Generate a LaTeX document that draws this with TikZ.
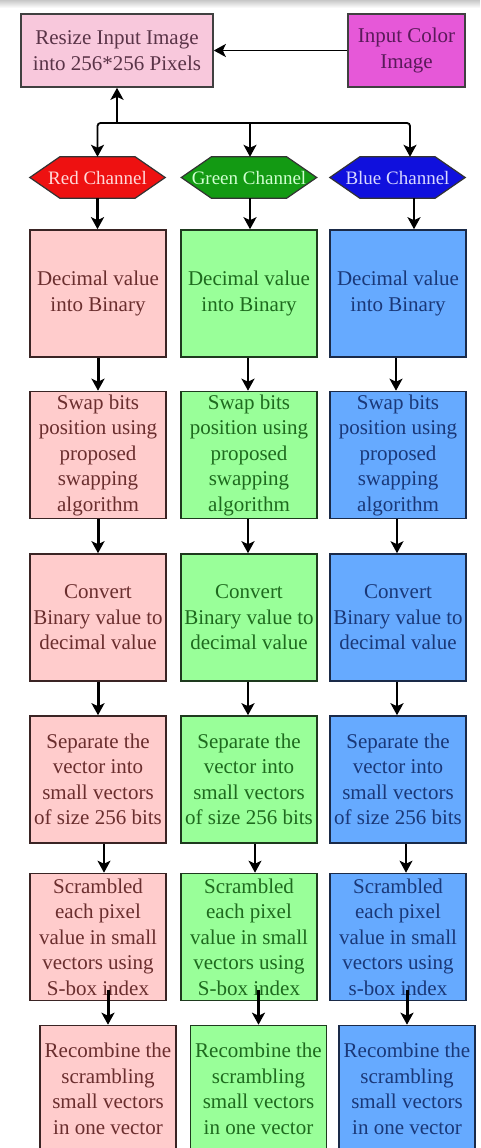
\documentclass[tikz,border=0pt]{standalone}
\usepackage{fontspec}
\setmainfont{Liberation Serif}
\usetikzlibrary{arrows.meta,calc,backgrounds}
\definecolor{resizefill}{HTML}{F8C8DC}
\definecolor{resizetext}{HTML}{5A3448}
\definecolor{inputfill}{HTML}{E658D8}
\definecolor{inputtext}{HTML}{5A1A5A}
\definecolor{rfill}{HTML}{FFCCCC}
\definecolor{gfill}{HTML}{99FF99}
\definecolor{bfill}{HTML}{66AAFF}
\definecolor{rtext}{HTML}{6A2E2E}
\definecolor{gtext}{HTML}{1E6A1E}
\definecolor{btext}{HTML}{1A3878}
\definecolor{rdraw}{HTML}{3A2424}
\definecolor{gdraw}{HTML}{1E3A1E}
\definecolor{bdraw}{HTML}{1A2A48}
\definecolor{rhex}{HTML}{EE1111}
\definecolor{ghex}{HTML}{139A13}
\definecolor{bhex}{HTML}{1010DD}
\definecolor{rhextext}{HTML}{FFD8D8}
\definecolor{ghextext}{HTML}{D0FFD0}
\definecolor{bhextext}{HTML}{D8D8FF}
\tikzset{
  base/.style={rectangle, line width=1.6pt, minimum width=136pt, minimum height=127pt,
    inner sep=0pt, align=center, font=\fontsize{21}{25.5}\selectfont},
  rbox/.style={base, fill=rfill, draw=rdraw, text=rtext},
  gbox/.style={base, fill=gfill, draw=gdraw, text=gtext},
  bluebox/.style={base, fill=bfill, draw=bdraw, text=btext},
  topbox/.style={rectangle, line width=1.6pt, draw=black!75, minimum height=73pt,
    inner sep=0pt, align=center, font=\fontsize{21}{25.5}\selectfont},
  hexa/.style={rectangle, minimum width=135pt, minimum height=41pt, inner sep=0pt,
    font=\fontsize{19}{22}\selectfont},
  hexline/.style={line width=1.2pt, draw=black!80, line join=miter},
  arr/.style={-{Stealth[length=12pt,width=13pt,inset=3pt]}, line width=2.4pt, black},
  thinarr/.style={arr, line width=1.4pt},
}
\newcommand{\hexfill}[2]{%
  \filldraw[hexline, fill=#2] (#1.west) -- ([xshift=30pt]#1.north west) -- ([xshift=-30pt]#1.north east)
    -- (#1.east) -- ([xshift=-30pt]#1.south east) -- ([xshift=30pt]#1.south west) -- cycle;}
\begin{document}
\begin{tikzpicture}[x=1pt,y=-1pt]
\useasboundingbox (0,0) rectangle (480,1148);
% hexagon labels (shapes drawn below on background layer)
\node[hexa, text=rhextext] (rh) at (97.5,177.5) {Red Channel};
\node[hexa, text=ghextext] (gh) at (249,177.5) {Green Channel};
\node[hexa, text=bhextext] (bh) at (397.5,177.5) {Blue Channel};
\begin{scope}[on background layer]
  \fill[white] (0,0) rectangle (480,1148);
  \shade[top color=black!22, bottom color=white] (0,0) rectangle (480,8);
  \hexfill{rh}{rhex}
  \hexfill{gh}{ghex}
  \hexfill{bh}{bhex}
\end{scope}
% top row
\node[topbox, fill=resizefill, text=resizetext, minimum width=192pt] (resize) at (117,50.5)
  {Resize Input Image\\into 256*256 Pixels};
\node[topbox, fill=inputfill, text=inputtext, minimum width=117pt] (input) at (406.5,50.5)
  {Input Color\\Image};
% red column
\node[rbox] (rd) at (98,293.5) {Decimal value\\into Binary};
\node[rbox] (rs) at (98,455) {Swap bits\\position using\\proposed\\swapping\\algorithm};
\node[rbox] (rv) at (98,617.5) {Convert\\Binary value to\\decimal value};
\node[rbox] (rp) at (98,779.5) {Separate the\\vector into\\small vectors\\of size 256 bits};
\node[rbox] (rc) at (98,937) {Scrambled\\each pixel\\value in small\\vectors using\\S-box index};
\node[rbox] (rr) at (108,1089) {Recombine the\\scrambling\\small vectors\\in one vector};
% green column
\node[gbox] (gd) at (249,293.5) {Decimal value\\into Binary};
\node[gbox] (gs) at (249,455) {Swap bits\\position using\\proposed\\swapping\\algorithm};
\node[gbox] (gv) at (249,617.5) {Convert\\Binary value to\\decimal value};
\node[gbox] (gp) at (249,779.5) {Separate the\\vector into\\small vectors\\of size 256 bits};
\node[gbox] (gc) at (249,937) {Scrambled\\each pixel\\value in small\\vectors using\\S-box index};
\node[gbox] (gr) at (258.5,1089) {Recombine the\\scrambling\\small vectors\\in one vector};
% blue column
\node[bluebox] (bd) at (398,293.5) {Decimal value\\into Binary};
\node[bluebox] (bs) at (398,455) {Swap bits\\position using\\proposed\\swapping\\algorithm};
\node[bluebox] (bv) at (398,617.5) {Convert\\Binary value to\\decimal value};
\node[bluebox] (bp) at (398,779.5) {Separate the\\vector into\\small vectors\\of size 256 bits};
\node[bluebox] (bc) at (398,937) {Scrambled\\each pixel\\value in small\\vectors using\\s-box index};
\node[bluebox] (br) at (407,1089) {Recombine the\\scrambling\\small vectors\\in one vector};
% connectors at top
\draw[arr, line width=1.8pt] (input.west) -- (resize.east);
\coordinate (j) at (117,123);
\draw[arr, line width=2.8pt] (j) -- (resize.south);
\draw[arr, line width=1.8pt, rounded corners=3pt] (j) -| (rh.north);
\draw[arr, line width=1.8pt] (j) -| ([xshift=1pt]gh.north);
\draw[arr, line width=1.8pt, rounded corners=3pt] (j) -| ([xshift=12.5pt]bh.north);
% hex to first boxes
\draw[arr] (rh.south) -- (rh.south |- rd.north);
\draw[arr] ([xshift=1pt]gh.south) -- ([xshift=1pt]gh.south |- gd.north);
\draw[arr, line width=1.8pt] ([xshift=16.5pt]bh.south) -- ([xshift=16.5pt]bh.south |- bd.north);
% column arrows
\draw[arr, line width=3pt] (rd.south) -- (rs.north);
\draw[arr] ([xshift=-1pt]gd.south) -- ([xshift=-1pt]gs.north);
\draw[arr, line width=2pt] ([xshift=-2pt]bd.south) -- ([xshift=-2pt]bs.north);
\draw[arr, line width=3pt] (rs.south) -- (rv.north);
\draw[arr] ([xshift=-1pt]gs.south) -- ([xshift=-1pt]gv.north);
\draw[thinarr] ([xshift=-1pt]bs.south) -- ([xshift=-1pt]bv.north);
\draw[arr, line width=3pt] (rv.south) -- (rp.north);
\draw[arr] ([xshift=-1pt]gv.south) -- ([xshift=-1pt]gp.north);
\draw[arr] ([xshift=-1pt]bv.south) -- ([xshift=-1pt]bp.north);
\draw[thinarr, line width=1.8pt] ([xshift=6pt]rp.south) -- ([xshift=6pt]rc.north);
\draw[thinarr] ([xshift=6pt]gp.south) -- ([xshift=6pt]gc.north);
\draw[thinarr] ([xshift=8pt]bp.south) -- ([xshift=8pt]bc.north);
\draw[arr, line width=3pt] ([yshift=11pt]rc.south -| rr.north) -- (rr.north);
\draw[arr, line width=3pt] ([yshift=11pt]gc.south -| gr.north) -- (gr.north);
\draw[arr, line width=3pt] ([yshift=11pt]bc.south -| br.north) -- (br.north);
\end{tikzpicture}
\end{document}
